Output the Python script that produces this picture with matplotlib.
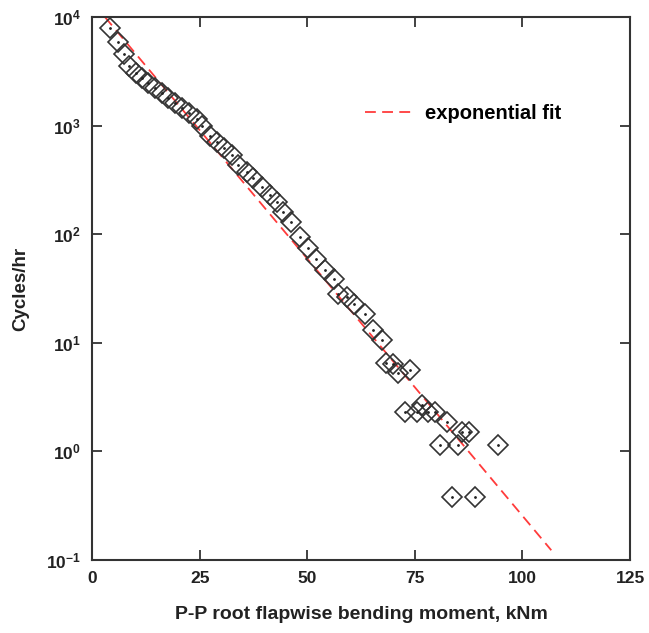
import math
import matplotlib
matplotlib.use("Agg")
import matplotlib.pyplot as plt
from matplotlib.ticker import FixedLocator, FuncFormatter, NullLocator

plt.rcParams['font.family'] = ['Liberation Sans', 'DejaVu Sans']
plt.rcParams['font.weight'] = 'bold'
plt.rcParams['mathtext.fontset'] = 'custom'
plt.rcParams['mathtext.bf'] = 'Liberation Sans:bold'
plt.rcParams['mathtext.rm'] = 'Liberation Sans:bold'

# measured rainflow counts
moment = [4.2, 6.0, 7.4, 8.6, 10.2, 11.6, 13.0, 14.6, 16.3, 17.7, 19.3, 20.9,
          22.5, 24.4, 25.6, 27.4, 29.0, 30.7, 32.5, 33.9, 36.0, 37.4, 39.5,
          41.4, 43.0, 44.4, 46.2, 48.3, 50.2, 52.0, 54.1, 56.2, 57.2, 59.3,
          60.9, 63.4, 65.3, 67.4, 68.3, 69.9, 71.1, 73.9,
          72.7, 75.5, 76.7, 78.1, 79.7, 82.5, 86.0, 87.6, 80.9, 85.0, 94.3,
          83.6, 89.0]
cycles = [7900, 5900, 4560, 3540, 3050, 2740, 2470, 2220, 2000, 1800, 1610, 1450,
          1310, 1150, 990, 800, 706, 622, 536, 434, 374, 329, 272,
          230, 198, 160, 129, 94, 74.6, 59.2, 46.8, 38.7, 28.1, 26.4,
          22.8, 18.4, 13.1, 10.6, 6.5, 6.4, 5.3, 5.6,
          2.31, 2.31, 2.67, 2.31, 2.31, 1.87, 1.51, 1.51, 1.15, 1.15, 1.15,
          0.38, 0.38]

# exponential fit end points
fit_x = [3.0, 106.7]
fit_y = [1.0e4, 0.123]

fig = plt.figure(figsize=(6.49, 6.33), dpi=100)
ax = fig.add_axes([0.1418, 0.1153, 0.829, 0.8578])

ax.plot(fit_x, fit_y, color='#ff3b3b', lw=1.3, dashes=(6, 3.5),
        label='exponential fit', zorder=2)
ax.plot(moment, cycles, 'D', ms=10, mfc='none', mec='#333333', mew=1.2,
        zorder=3)
ax.plot(moment, cycles, '.', ms=2, color='#222222', zorder=4)

ax.set_yscale('log')
ax.set_xlim(0, 125)
ax.set_ylim(0.1, 1e4)
ax.xaxis.set_major_locator(FixedLocator([0, 25, 50, 75, 100, 125]))
ax.yaxis.set_major_locator(FixedLocator([0.1, 1, 10, 100, 1000, 10000]))
ax.yaxis.set_minor_locator(NullLocator())
ax.yaxis.set_major_formatter(FuncFormatter(
    lambda v, p: r'$\mathbf{10^{%d}}$' % round(math.log10(v))))

ax.tick_params(direction='in', length=7, width=1.3, top=True, right=True,
               labelsize=12.5, colors='#333333', labelcolor='#222222', pad=8)
for s in ax.spines.values():
    s.set_linewidth(1.5)
    s.set_color('#333333')

ax.set_xlabel('P-P root flapwise bending moment, kNm', fontsize=14,
              fontweight='bold', color='#222222', labelpad=14)
ax.set_ylabel('Cycles/hr', fontsize=13.5, fontweight='bold', color='#222222',
              labelpad=12)

ax.legend(loc='center left', bbox_to_anchor=(0.507, 0.823), frameon=False,
          fontsize=14.5, handlelength=2.3, handletextpad=0.7,
          borderpad=0, borderaxespad=0)

fig.savefig('out.png', dpi=100)
